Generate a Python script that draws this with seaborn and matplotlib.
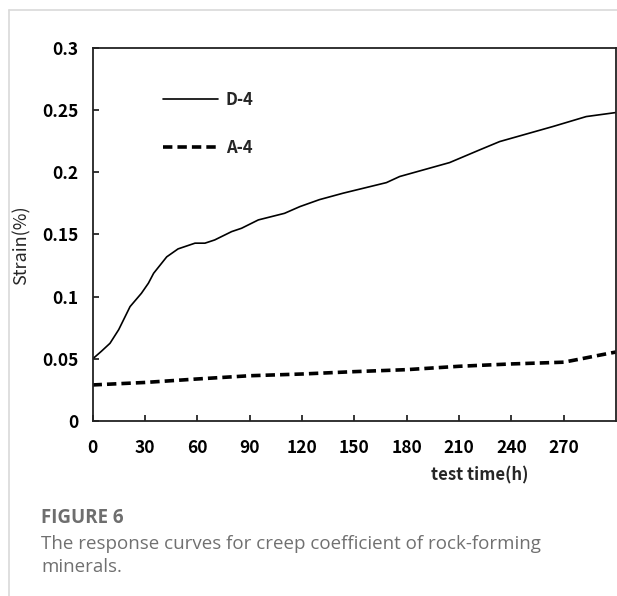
import numpy as np
import pandas as pd
import seaborn as sns
import matplotlib.pyplot as plt
from matplotlib.lines import Line2D

# values
d4_time = [0, 1.5, 5, 10, 15, 21.5, 28, 32, 35, 42.5, 49, 58.7, 64.4, 70, 79.7, 85.4,
           95, 110, 118.8, 130, 143.6, 168.4, 176, 204.6, 221.8, 233.3, 263.8, 282.9, 299.7]
d4_strain = [0.050, 0.0517, 0.056, 0.0625, 0.0735, 0.092, 0.1027, 0.1108, 0.1188, 0.132,
             0.1384, 0.143, 0.143, 0.1456, 0.1523, 0.155, 0.1617, 0.167, 0.1724, 0.178,
             0.1832, 0.1917, 0.1966, 0.2078, 0.218, 0.2247, 0.2368, 0.2448, 0.248]

a4_time = [0, 30, 60, 90, 120, 150, 180, 210, 240, 270, 280, 290, 300]
a4_strain = [0.029, 0.031, 0.0338, 0.0364, 0.0378, 0.0397, 0.0413, 0.044, 0.0459,
             0.0473, 0.050, 0.0528, 0.0555]

x_ticks = [0, 30, 60, 90, 120, 150, 180, 210, 240, 270]
y_ticks = [0, 0.05, 0.1, 0.15, 0.2, 0.25, 0.3]
y_tick_labels = ['0', '0.05', '0.1', '0.15', '0.2', '0.25', '0.3']

df_d4 = pd.DataFrame({'time': d4_time, 'strain': d4_strain})
df_a4 = pd.DataFrame({'time': a4_time, 'strain': a4_strain})

sns.set_style('ticks')
plt.rcParams['font.family'] = ['Noto Sans CJK KR', 'DejaVu Sans']

fig = plt.figure(figsize=(6.17, 5.96), dpi=100)
ax = fig.add_axes([0.15, 0.2936, 0.8485, 0.626])

sns.lineplot(x='time', y='strain', data=df_d4, ax=ax, color='black', lw=1.2,
             label='D-4')
sns.lineplot(x='time', y='strain', data=df_a4, ax=ax, color='black', lw=2.6,
             linestyle=(0, (2.6, 1.4)), label='A-4')

ax.set_xlim(0, 300)
ax.set_ylim(0, 0.3)
ax.set_xticks(x_ticks)
ax.set_xticklabels([str(t) for t in x_ticks])
ax.set_yticks(y_ticks)
ax.set_yticklabels(y_tick_labels)
ax.tick_params(direction='in', length=4.5, width=1.1, labelsize=12.5, colors='black')
ax.tick_params(axis='y', pad=10)
ax.tick_params(axis='x', pad=13)
for lbl in ax.get_xticklabels() + ax.get_yticklabels():
    lbl.set_fontweight('bold')
for sp in ax.spines.values():
    sp.set_visible(True)
    sp.set_linewidth(1.3)
    sp.set_color('#222222')

ax.set_xlabel('test time(h)', fontsize=12, fontweight='bold')
ax.xaxis.set_label_coords(0.74, -0.123)
ax.set_ylabel('Strain(%)', fontsize=13)
ax.yaxis.set_label_coords(-0.118, 0.47)

ax.legend(frameon=False, loc='upper left', bbox_to_anchor=(0.105, 0.924),
          handlelength=3.3, handletextpad=0.5, labelspacing=1.8,
          prop={'weight': 'bold', 'size': 12})

# caption
fig.text(0.067, 0.131, 'FIGURE 6', fontsize=13.5, fontweight='bold', color='#6e6e6e',
         family=['Open Sans', 'DejaVu Sans'], va='center')
fig.text(0.067, 0.088, 'The response curves for creep coefficient of rock-forming',
         fontsize=13.5, color='#707070', family=['Open Sans', 'DejaVu Sans'], va='center')
fig.text(0.067, 0.048, 'minerals.', fontsize=13.5, color='#707070',
         family=['Open Sans', 'DejaVu Sans'], va='center')

# frame lines of the figure panel
fig.add_artist(Line2D([9 / 617, 1], [1 - 9.5 / 596, 1 - 9.5 / 596], color='#d9d9d9', lw=1.2))
fig.add_artist(Line2D([9 / 617, 9 / 617], [0, 1 - 9.5 / 596], color='#d9d9d9', lw=1.2))

fig.savefig('out.png', dpi=100)
